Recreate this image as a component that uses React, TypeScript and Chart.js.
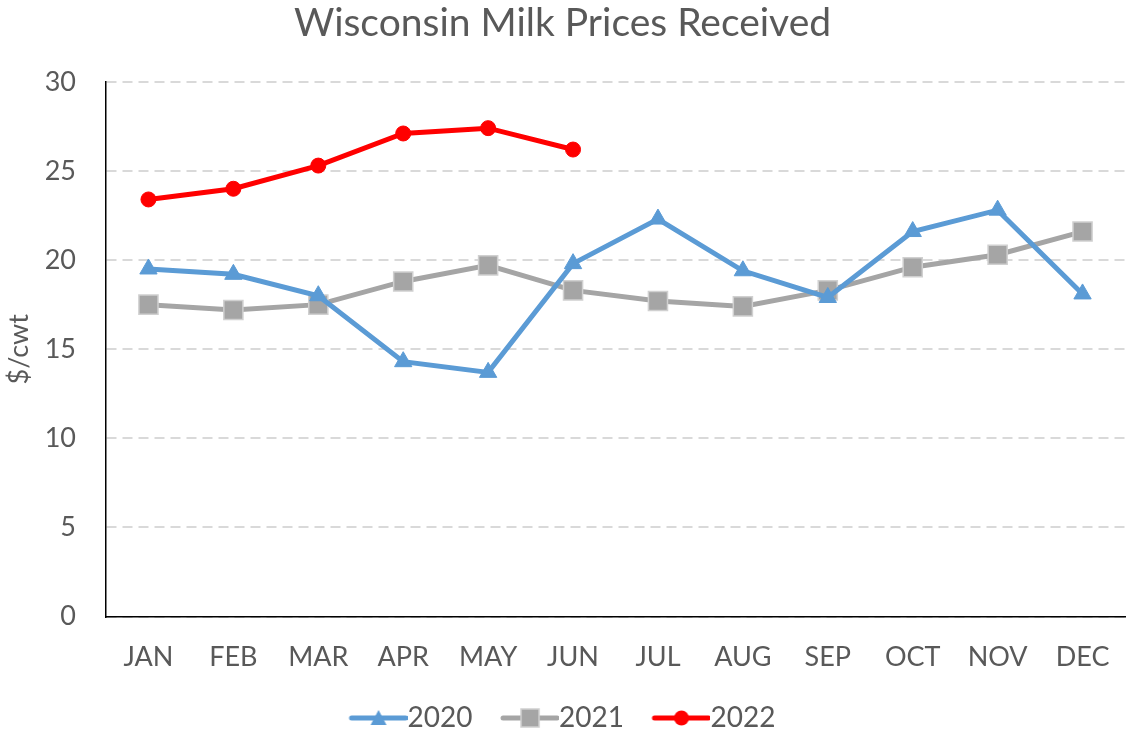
import React, { useEffect, useRef } from "react";
import { Chart, registerables } from "chart.js";

Chart.register(...registerables);

const months = ["JAN", "FEB", "MAR", "APR", "MAY", "JUN", "JUL", "AUG", "SEP", "OCT", "NOV", "DEC"];
const prices2020 = [19.5, 19.2, 18.0, 14.3, 13.7, 19.8, 22.3, 19.4, 17.9, 21.6, 22.8, 18.1];
const prices2021 = [17.5, 17.2, 17.5, 18.8, 19.7, 18.3, 17.7, 17.4, 18.3, 19.6, 20.3, 21.6];
const prices2022 = [23.4, 24.0, 25.3, 27.1, 27.4, 26.2];
const seriesNames = ["2020", "2021", "2022"];

const FONT = "Lato, 'Open Sans', sans-serif";
const TEXT = "#595959";
const LEG_FS = 28;
const BOX_W = 44;

function legendIcon(kind: string, color: string, border: string) {
  const W = BOX_W + LEG_FS;
  const c = document.createElement("canvas");
  c.width = W;
  c.height = 22;
  const ctx = c.getContext("2d")!;
  const x0 = LEG_FS / 2;
  const x1 = W;
  const cx = (x0 + x1) / 2;
  ctx.strokeStyle = color;
  ctx.lineWidth = 5;
  ctx.lineCap = "round";
  ctx.beginPath();
  ctx.moveTo(x0 + 2, 11);
  ctx.lineTo(x1 - 2, 11);
  ctx.stroke();
  ctx.fillStyle = color;
  if (kind === "triangle") {
    ctx.beginPath();
    ctx.moveTo(cx, 3);
    ctx.lineTo(cx + 8, 18);
    ctx.lineTo(cx - 8, 18);
    ctx.closePath();
    ctx.fill();
  } else if (kind === "rect") {
    ctx.fillRect(cx - 9, 2, 18, 18);
    ctx.strokeStyle = border;
    ctx.lineWidth = 1.5;
    ctx.strokeRect(cx - 9, 2, 18, 18);
  } else {
    ctx.beginPath();
    ctx.arc(cx, 11, 7.5, 0, Math.PI * 2);
    ctx.fill();
  }
  return c;
}

export default function App() {
  const ref = useRef<HTMLCanvasElement>(null);
  useEffect(() => {
    const icons = [
      legendIcon("triangle", "#5B9BD5", "#5B9BD5"),
      legendIcon("rect", "#A5A5A5", "#D0D0D0"),
      legendIcon("circle", "#FF0000", "#FF0000"),
    ];
    const chart = new Chart(ref.current!, {
      type: "line",
      data: {
        labels: months,
        datasets: [
          {
            label: seriesNames[0],
            data: prices2020,
            borderColor: "#5B9BD5",
            backgroundColor: "#5B9BD5",
            borderWidth: 5,
            pointStyle: "triangle",
            pointRadius: 10,
            pointBackgroundColor: "#5B9BD5",
            pointBorderColor: "#5B9BD5",
            pointBorderWidth: 1,
          },
          {
            label: seriesNames[1],
            data: prices2021,
            borderColor: "#A5A5A5",
            backgroundColor: "#A5A5A5",
            borderWidth: 5,
            pointStyle: "rect",
            pointRadius: 13.5,
            pointBackgroundColor: "#A5A5A5",
            pointBorderColor: "#D0D0D0",
            pointBorderWidth: 1.5,
          },
          {
            label: seriesNames[2],
            data: prices2022,
            borderColor: "#FF0000",
            backgroundColor: "#FF0000",
            borderWidth: 5,
            pointStyle: "circle",
            pointRadius: 7.5,
            pointBackgroundColor: "#FF0000",
            pointBorderColor: "#FF0000",
            pointBorderWidth: 1,
          },
        ],
      },
      options: {
        animation: false,
        responsive: false,
        maintainAspectRatio: false,
        layout: { autoPadding: false, padding: { top: 0, right: 3, bottom: -7, left: 0 } },
        plugins: {
          title: {
            display: true,
            text: "Wisconsin Milk Prices Received",
            color: TEXT,
            font: { family: FONT, size: 39, weight: "normal" },
            padding: { top: 0, bottom: 35 },
          },
          legend: {
            position: "bottom",
            labels: {
              usePointStyle: true,
              pointStyleWidth: BOX_W,
              color: TEXT,
              font: { family: FONT, size: LEG_FS },
              padding: 7,
              generateLabels: (ch: any) => {
                const items = Chart.defaults.plugins.legend.labels.generateLabels(ch);
                items.forEach((it: any, i: number) => {
                  it.pointStyle = icons[i];
                  if (i < items.length - 1) it.text = it.text + "   ";
                });
                return items;
              },
            },
          },
          tooltip: { enabled: false },
        },
        scales: {
          x: {
            offset: true,
            afterFit: (s: any) => {
              s.paddingLeft = 0;
              s.paddingRight = 0;
            },
            grid: { display: false, drawTicks: false },
            border: { display: true, color: "#000000", width: 1.5 },
            ticks: { color: TEXT, font: { family: FONT, size: 27 }, padding: 24 },
          },
          y: {
            min: 0,
            max: 30,
            afterFit: (s: any) => {
              s.width = 106;
            },
            ticks: { stepSize: 5, color: TEXT, font: { family: FONT, size: 27 }, padding: 30 },
            grid: { color: "#D9D9D9", lineWidth: 2, drawTicks: false },
            border: { display: true, color: "#000000", width: 1.5, dash: [10, 6] },
            title: {
              display: true,
              text: "$/cwt",
              color: TEXT,
              font: { family: FONT, size: 27 },
              padding: { top: 3, bottom: 0 },
            },
          },
        },
      },
    });
    return () => chart.destroy();
  }, []);
  return (
    <div style={{ position: "fixed", left: 0, top: 0, width: 1128, height: 735, background: "#fff" }}>
      <canvas ref={ref} width={1128} height={735} style={{ width: 1128, height: 735 }} />
    </div>
  );
}
